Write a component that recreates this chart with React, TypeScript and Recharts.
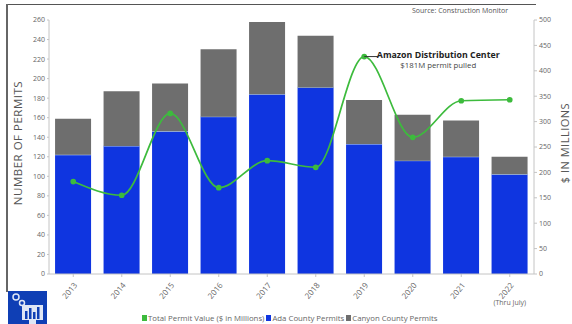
import { Bar, ComposedChart, Legend, Line, XAxis, YAxis } from "recharts";

const years = ["2013", "2014", "2015", "2016", "2017", "2018", "2019", "2020", "2021", "2022"];
const adaPermits = [122, 131, 146, 161, 184, 191, 133, 116, 120, 102];
const canyonPermits = [37, 56, 49, 69, 74, 53, 45, 47, 37, 18];
const permitValue = [182, 155, 316, 170, 223, 210, 428, 269, 341, 343];
const leftTicks = [0, 20, 40, 60, 80, 100, 120, 140, 160, 180, 200, 220, 240, 260];
const rightTicks = [0, 50, 100, 150, 200, 250, 300, 350, 400, 450, 500];
const legendOrder = ["value", "ada", "canyon"];

const rows = years.map((year, i) => ({
  year,
  ada: adaPermits[i],
  canyon: canyonPermits[i],
  value: permitValue[i],
}));

const FONT = "'Open Sans', sans-serif";
const TICK = { fontSize: 7, fill: "#666", fontFamily: FONT };
const AXIS = { stroke: "#c4c4c4" };

function YearTick({ x, y, payload }: any) {
  const cx = x - 3;
  const cy = y + 12;
  return (
    <g>
      <text x={cx} y={cy} textAnchor="middle" dominantBaseline="middle" fontSize={8} fill="#666" fontFamily={FONT} transform={`rotate(-50 ${cx} ${cy})`}>
        {payload.value}
      </text>
      {payload.value === "2022" && (
        <text x={x} y={y + 26} textAnchor="middle" fontSize={7} fill="#666" fontFamily={FONT}>
          (Thru July)
        </text>
      )}
    </g>
  );
}

// pale rule along the top of the Ada segment
function AdaBar({ x, y, width, height, fill }: any) {
  return (
    <g>
      <rect x={x} y={y} width={width} height={height} fill={fill} />
      <line x1={x} y1={y} x2={x + width} y2={y} stroke="#a9c4ee" strokeWidth={1} />
    </g>
  );
}

// callout on the 2019 peak
function PeakLabel({ x, y, index }: any) {
  if (index !== 6) return null;
  return (
    <g fontFamily={FONT}>
      <line x1={x} y1={y} x2={x + 14} y2={y} stroke="#333" strokeWidth={1} />
      <text x={x + 74} y={y + 1} textAnchor="middle" fontSize={8.8} fontWeight={700} fill="#222">
        Amazon Distribution Center
      </text>
      <text x={x + 74} y={y + 11} textAnchor="middle" fontSize={7.8} fill="#444">
        $181M permit pulled
      </text>
    </g>
  );
}

function LegendRow({ payload }: any) {
  return (
    <div style={{ display: "flex", alignItems: "center", fontFamily: FONT, fontSize: 7.8, color: "#666", whiteSpace: "nowrap" }}>
      {(payload || []).map((item: any) => (
        <span key={item.value} style={{ display: "flex", alignItems: "center", marginRight: 2 }}>
          <span style={{ width: 5, height: 6, background: item.color, marginRight: 1 }} />
          {item.value}
        </span>
      ))}
    </div>
  );
}

function AxisTitle({ x, text, size }: { x: number; text: string; size: number }) {
  return (
    <text x={x} y={143} textAnchor="middle" fontSize={size} fill="#555" fontFamily={FONT} letterSpacing={0.5} transform={`rotate(-90 ${x} 143)`}>
      {text}
    </text>
  );
}

function Logo() {
  return (
    <svg width={39} height={33} style={{ position: "absolute", left: 8, top: 291 }}>
      <rect width={39} height={33} fill="#0f3fb5" />
      <circle cx={8} cy={6} r={3} fill="none" stroke="#dfe6f5" strokeWidth={1.5} />
      <circle cx={14} cy={12} r={2.5} fill="none" stroke="#dfe6f5" strokeWidth={1.5} />
      <rect x={14} y={14} width={21} height={15} fill="#dfe6f5" />
      <rect x={17} y={20} width={2.5} height={8} fill="#0f3fb5" />
      <rect x={21} y={17} width={2.5} height={11} fill="#0f3fb5" />
      <rect x={25} y={21} width={2.5} height={7} fill="#0f3fb5" />
      <rect x={29} y={16} width={2.5} height={12} fill="#0f3fb5" />
      <rect x={21} y={29} width={7} height={4} fill="#dfe6f5" />
    </svg>
  );
}

export default function App() {
  return (
    <div style={{ position: "absolute", left: 0, top: 0, width: 572, height: 324, overflow: "hidden", background: "#fff" }}>
      <div style={{ position: "absolute", left: 6, top: 4, width: 530, height: 1, background: "#555" }} />
      <div style={{ position: "absolute", left: 6, top: 4, width: 2, height: 288, background: "#666" }} />
      <div style={{ position: "absolute", left: 412, top: 6, fontFamily: FONT, fontSize: 7, color: "#555", whiteSpace: "nowrap" }}>
        Source: Construction Monitor
      </div>

      <ComposedChart width={572} height={324} data={rows} margin={{ top: 20, right: 0, bottom: 0, left: 0 }} barCategoryGap="12.5%">
        <XAxis dataKey="year" height={40} tick={<YearTick />} axisLine={AXIS} tickLine={AXIS} tickSize={3} interval={0} />
        <YAxis
          yAxisId="left"
          width={49}
          domain={[0, 260]}
          ticks={leftTicks}
          interval={0}
          tick={TICK}
          axisLine={AXIS}
          tickLine={AXIS}
          tickSize={2}
          label={{ content: () => <AxisTitle x={22} size={11.5} text="NUMBER OF PERMITS" /> }}
        />
        <YAxis
          yAxisId="right"
          orientation="right"
          width={38}
          domain={[0, 500]}
          ticks={rightTicks}
          interval={0}
          tick={TICK}
          axisLine={AXIS}
          tickLine={AXIS}
          tickSize={3}
          label={{ content: () => <AxisTitle x={569} size={11} text="$ IN MILLIONS" /> }}
        />
        <Bar yAxisId="left" dataKey="ada" name="Ada County Permits" stackId="permits" fill="#0f35e0" shape={<AdaBar />} isAnimationActive={false} />
        <Bar yAxisId="left" dataKey="canyon" name="Canyon County Permits" stackId="permits" fill="#6e6e6e" isAnimationActive={false} />
        <Line
          yAxisId="right"
          type="monotone"
          dataKey="value"
          name="Total Permit Value ($ in Millions)"
          stroke="#3dbb3d"
          strokeWidth={1.7}
          dot={{ r: 2, fill: "#3dbb3d", stroke: "#3dbb3d" }}
          label={<PeakLabel />}
          isAnimationActive={false}
        />
        <Legend
          content={<LegendRow />}
          itemSorter={(item: any) => legendOrder.indexOf(item.dataKey)}
          wrapperStyle={{ left: 142, top: 313, width: 320, bottom: "auto" }}
        />
      </ComposedChart>
      <Logo />
    </div>
  );
}
